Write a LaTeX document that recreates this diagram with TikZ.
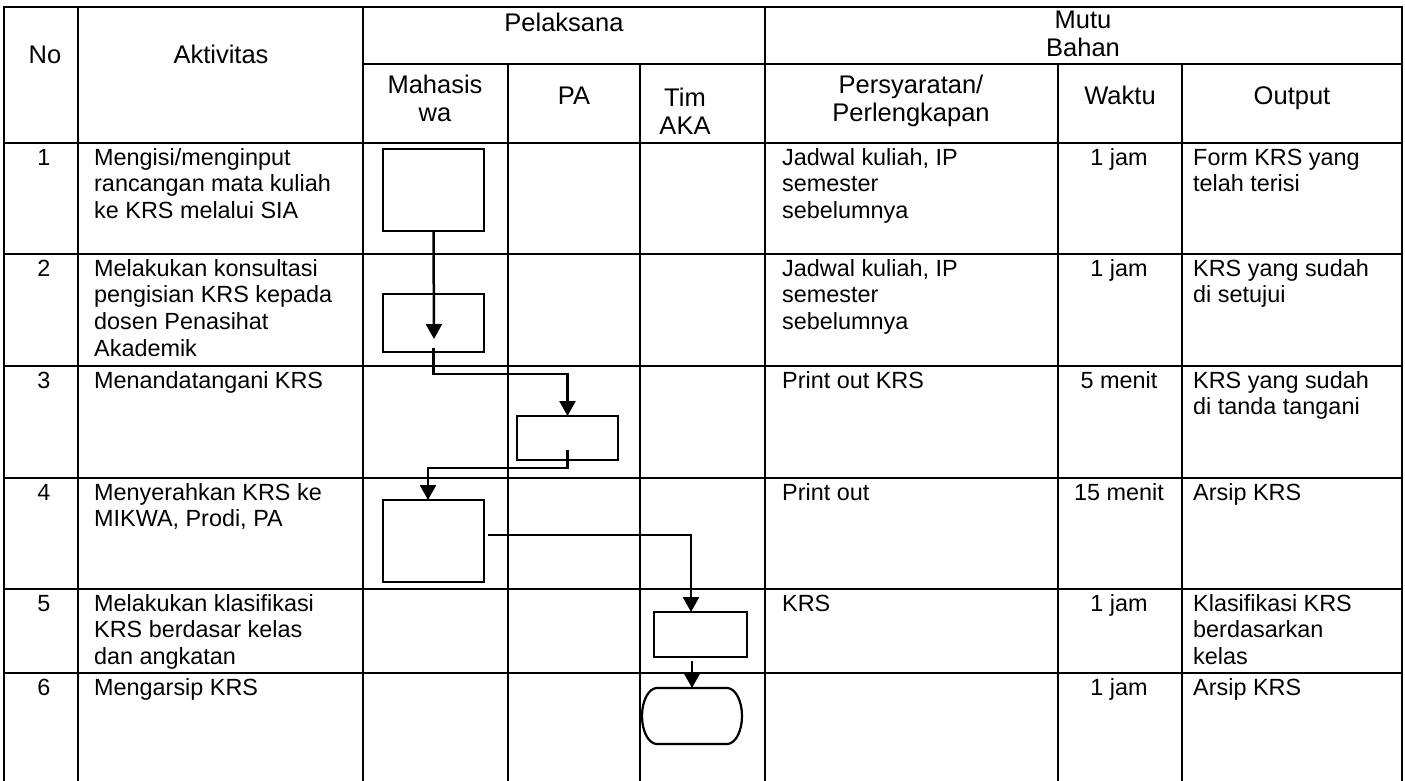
\documentclass[tikz,border=0pt]{standalone}
\usepackage{fontspec}
\setmainfont{Liberation Sans}
\usetikzlibrary{arrows.meta}
\newcommand{\bodyfont}{\fontsize{23.4pt}{26.9pt}\selectfont}
\newcommand{\headfont}{\fontsize{25.5pt}{28pt}\selectfont}
\newcommand{\ml}[1]{\begin{tabular}[t]{@{}l@{}}#1\end{tabular}}
\newcommand{\mc}[1]{\begin{tabular}[t]{@{}c@{}}#1\end{tabular}}
\tikzset{
  grid/.style={line width=2.8pt, line cap=rect},
  box/.style={draw, line width=2.2pt, inner sep=0, outer sep=0, minimum width=101pt},
  flow/.style={line width=2.5pt, -{Triangle[length=15pt,width=16pt]}},
  txt/.style={inner sep=0, anchor=base west, font=\bodyfont},
  ctxt/.style={inner sep=0, anchor=base, font=\bodyfont},
  htxt/.style={inner sep=0, anchor=base, font=\headfont},
}
\begin{document}
\begin{tikzpicture}[x=1pt,y=-1pt]
\useasboundingbox (0,0) rectangle (1405,780);
% grid
\draw[grid] (4,7) -- (1402,7);
\draw[grid] (363,64) -- (1402,64);
\foreach \yy in {143,254,366,478,589,673} \draw[grid] (4,\yy) -- (1402,\yy);
\foreach \xx in {4,78,363,765,1402} \draw[grid] (\xx,7) -- (\xx,780);
\foreach \xx in {508,640,1058,1182} \draw[grid] (\xx,64) -- (\xx,780);
% headers
\node[htxt] (hno) at (45,63) {No};
\node[htxt] (hakt) at (221,63) {Aktivitas};
\node[htxt] (hpel) at (564,31) {Pelaksana};
\node[htxt] (hmutu) at (1083,28) {\mc{Mutu\\Bahan}};
\node[htxt] (hmhs) at (435,93) {\mc{Mahasis\\wa}};
\node[htxt] (hpa) at (574,104) {PA};
\node[htxt] (htim) at (685,106) {\mc{Tim\\AKA}};
\node[htxt] (hsyarat) at (911,93) {\mc{Persyaratan/\\Perlengkapan}};
\node[htxt] (hwaktu) at (1120,104) {Waktu};
\node[htxt] (hout) at (1292,104) {Output};
% row 1
\node[ctxt] (n1) at (44,165) {1};
\node[txt] (a1) at (94,165) {\ml{Mengisi/menginput\\rancangan mata kuliah\\ke KRS melalui SIA}};
\node[txt] (p1) at (782,165) {\ml{Jadwal kuliah, IP\\semester\\sebelumnya}};
\node[ctxt] (w1) at (1119,165) {1 jam};
\node[txt] (o1) at (1193,165) {\ml{Form KRS yang\\telah terisi}};
% row 2
\node[ctxt] (n2) at (44,276) {2};
\node[txt] (a2) at (94,276) {\ml{Melakukan konsultasi\\pengisian KRS kepada\\dosen Penasihat\\Akademik}};
\node[txt] (p2) at (782,276) {\ml{Jadwal kuliah, IP\\semester\\sebelumnya}};
\node[ctxt] (w2) at (1119,276) {1 jam};
\node[txt] (o2) at (1193,276) {\ml{KRS yang sudah\\di setujui}};
% row 3
\node[ctxt] (n3) at (44,388) {3};
\node[txt] (a3) at (94,388) {Menandatangani KRS};
\node[txt] (p3) at (782,388) {Print out KRS};
\node[ctxt] (w3) at (1119,388) {5 menit};
\node[txt] (o3) at (1193,388) {\ml{KRS yang sudah\\di tanda tangani}};
% row 4
\node[ctxt] (n4) at (44,500) {4};
\node[txt] (a4) at (94,500) {\ml{Menyerahkan KRS ke\\MIKWA, Prodi, PA}};
\node[txt] (p4) at (782,500) {Print out};
\node[ctxt] (w4) at (1119,500) {15 menit};
\node[txt] (o4) at (1193,500) {Arsip KRS};
% row 5
\node[ctxt] (n5) at (44,611) {5};
\node[txt] (a5) at (94,611) {\ml{Melakukan klasifikasi\\KRS berdasar kelas\\dan angkatan}};
\node[txt] (p5) at (782,611) {KRS};
\node[ctxt] (w5) at (1119,611) {1 jam};
\node[txt] (o5) at (1193,611) {\ml{Klasifikasi KRS\\berdasarkan\\kelas}};
% row 6
\node[ctxt] (n6) at (44,695) {6};
\node[txt] (a6) at (94,695) {Mengarsip KRS};
\node[ctxt] (w6) at (1119,695) {1 jam};
\node[txt] (o6) at (1193,695) {Arsip KRS};
% flow boxes
\node[box, minimum height=82pt] (b1) at (433.5,190) {};
\node[box, minimum height=58pt] (b2) at (433.5,323) {};
\node[box, minimum height=44pt] (b3) at (567.5,438) {};
\node[box, minimum height=82pt] (b4) at (433.5,541) {};
\node[box, minimum width=93pt, minimum height=45pt] (b5) at (700.5,634.5) {};
\node[inner sep=0, outer sep=0, minimum width=100pt, minimum height=56pt] (t6) at (692,716) {};
\draw[line width=2.2pt] ([xshift=15pt]t6.north west) -- ([xshift=-15pt]t6.north east)
  arc[start angle=90,end angle=-90,x radius=15pt,y radius=28pt]
  -- ([xshift=15pt]t6.south west)
  arc[start angle=270,end angle=90,x radius=15pt,y radius=28pt] -- cycle;
% connectors
\coordinate (e1) at (434,339);
\draw[flow] (b1.south) -- (e1);
\draw[flow] ([yshift=4pt]b2.south) -- ++(0,26) -| (b3.north);
\draw[flow] ([yshift=10pt]b3.south) -- ++(0,18) -| ([xshift=-5.5pt]b4.north);
\coordinate (c4) at (488,535);
\draw[flow] (c4) -| ([xshift=-9.5pt]b5.north);
\draw[flow] ([xshift=-8.5pt,yshift=-4pt]b5.south) -- (t6.north);
\end{tikzpicture}
\end{document}
